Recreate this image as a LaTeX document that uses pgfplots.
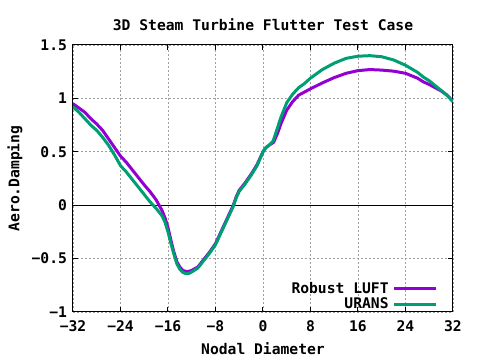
\documentclass[border=0pt]{standalone}
\usepackage{fontspec}
\setmainfont{DejaVu Sans Mono}
\usepackage{pgfplots}
\pgfplotsset{compat=1.18}
\definecolor{cLUFT}{HTML}{9400D3}
\definecolor{cURANS}{HTML}{009E73}
\newcommand{\gpfont}{\fontsize{11}{12}\selectfont\bfseries}
\begin{document}
\begin{tikzpicture}
\path[use as bounding box] (-54.75pt,-36pt) rectangle (305.25pt,234pt);
\begin{axis}[
  at={(0,0)}, anchor=south west,
  scale only axis, width=285pt, height=200.25pt,
  xmin=-32, xmax=32, ymin=-1, ymax=1.5,
  xtick={-32,-24,-16,-8,0,8,16,24,32},
  xticklabels={−32,−24,−16,−8,0,8,16,24,32},
  ytick={-1,-0.5,0,0.5,1,1.5},
  yticklabels={−1,−0.5,0,0.5,1,1.5},
  tick align=inside, major tick length=4pt,
  xtick pos=both, ytick pos=both,
  tick style={black, line width=0.75pt},
  axis line style={black, line width=0.75pt},
  grid=major,
  major grid style={gray!75, line width=0.6pt, dash pattern=on 1.5pt off 1.5pt},
  font=\gpfont,
  ticklabel style={font=\gpfont},
  xticklabel style={yshift=-3pt},
  yticklabel style={xshift=-1pt},
  title={3D Steam Turbine Flutter Test Case},
  title style={at={(axis description cs:0.5,1.045)}, anchor=center},
  xlabel={Nodal Diameter},
  xlabel style={at={(axis description cs:0.5,-0.1386)}, anchor=center},
  ylabel={Aero.Damping},
  ylabel style={at={(axis description cs:-0.1526,0.5)}, anchor=center},
  legend style={at={(axis description cs:0.9603,-0.012)}, anchor=south east,
    draw=none, fill=none, inner sep=0pt, row sep=-4pt,
    font=\gpfont, nodes={inner sep=3pt}},
  legend cell align=right,
  legend plot pos=right,
  legend image code/.code={\draw[#1, line width=2.25pt] (2pt,0pt) -- (33.5pt,0pt);},
]
\addplot[black, line width=0.75pt, forget plot] coordinates {(-32,0) (32,0)};
\addplot[cLUFT, line width=2.25pt, line join=round] coordinates {
(-32,0.95) (-31,0.91) (-30,0.87) (-29,0.81) (-28,0.76) (-27,0.70) (-26,0.62)
(-25,0.54) (-24,0.46) (-23,0.40) (-22,0.33) (-21,0.26) (-20,0.19) (-19,0.125)
(-18,0.05) (-17.5,0.0) (-17,-0.05) (-16.5,-0.12) (-16,-0.21) (-15.5,-0.33)
(-15,-0.44) (-14.5,-0.53) (-14,-0.58) (-13.5,-0.61) (-13,-0.62) (-12.5,-0.62)
(-12,-0.61) (-11,-0.58) (-10,-0.51) (-9,-0.44) (-8,-0.36) (-7,-0.24) (-6,-0.12)
(-5,0.0) (-4.5,0.08) (-4,0.14) (-3,0.21) (-2,0.29) (-1,0.38) (0,0.50) (0.5,0.54)
(1,0.56) (1.8,0.59) (2.5,0.68) (3,0.76) (4,0.89) (5,0.97) (6,1.03) (7,1.06)
(8,1.09) (10,1.145) (12,1.195) (14,1.235) (16,1.26) (18,1.27) (20,1.265)
(22,1.255) (24,1.235) (26,1.19) (27,1.155) (28,1.13) (29,1.10) (30,1.07)
(31,1.03) (32,0.97)
};
\addlegendentry{Robust LUFT}
\addplot[cURANS, line width=2.25pt, line join=round] coordinates {
(-32,0.92) (-31,0.87) (-30,0.81) (-29,0.75) (-28,0.70) (-27,0.635) (-26,0.56)
(-25,0.47) (-24,0.37) (-23,0.31) (-22,0.24) (-21,0.17) (-20,0.10) (-19,0.03)
(-18,-0.03) (-17,-0.10) (-16.5,-0.16) (-16,-0.25) (-15.5,-0.36) (-15,-0.46)
(-14.5,-0.55) (-14,-0.60) (-13.5,-0.63) (-13,-0.64) (-12.5,-0.64) (-12,-0.625)
(-11,-0.59) (-10,-0.52) (-9,-0.45) (-8,-0.37) (-7,-0.25) (-6,-0.13) (-5,-0.01)
(-4.5,0.07) (-4,0.13) (-3,0.20) (-2,0.28) (-1,0.37) (0,0.50) (0.5,0.54) (1,0.56)
(1.7,0.60) (2.3,0.70) (3,0.82) (4,0.96) (5,1.04) (6,1.10) (7,1.14) (8,1.19)
(10,1.27) (12,1.33) (14,1.375) (16,1.395) (18,1.40) (20,1.39) (22,1.36)
(24,1.31) (26,1.245) (27,1.20) (28,1.165) (29,1.12) (30,1.075) (31,1.03) (32,0.97)
};
\addlegendentry{URANS}
\end{axis}
\end{tikzpicture}
\end{document}
